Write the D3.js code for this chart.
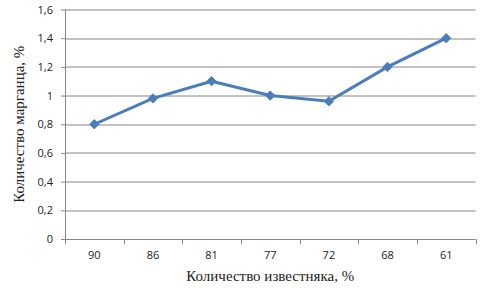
<!doctype html>
<html lang="ru">
<head>
  <meta charset="utf-8">
  <title>Количество марганца</title>
  <script src="https://d3js.org/d3.v7.min.js"></script>
  <style>
    body { margin: 0; background: #fff; }
  </style>
</head>
<body>
  <div id="chart"></div>
  <script>
    // data
    var categories = ['90', '86', '81', '77', '72', '68', '61'];
    var manganese = [0.8, 0.98, 1.1, 1.0, 0.96, 1.2, 1.4];
    var yTicks = [0, 0.2, 0.4, 0.6, 0.8, 1, 1.2, 1.4, 1.6];

    var width = 503, height = 288;
    var margin = {top: 9.5, right: 27.5, bottom: 49, left: 65};
    var w = width - margin.left - margin.right,
        h = height - margin.top - margin.bottom;

    var svg = d3.select('#chart').append('svg')
      .attr('width', width)
      .attr('height', height);

    var g = svg.append('g')
      .attr('transform', 'translate(' + margin.left + ',' + margin.top + ')');

    var x = d3.scaleBand().domain(categories).range([0, w]);
    var y = d3.scaleLinear().domain([0, 1.6]).range([h, 0]);

    var axisColor = '#868686';
    var labelFont = '"Open Sans", "Liberation Sans", Arial, sans-serif';
    var titleFont = 'Liberation Serif, Tinos, Times New Roman, DejaVu Serif, Noto Serif, serif';

    // gridlines
    g.selectAll('.grid')
      .data(yTicks.slice(1))
      .enter().append('line')
      .attr('class', 'grid')
      .attr('x1', 0).attr('x2', w)
      .attr('y1', function(d) { return Math.round(y(d)) + 0.5; })
      .attr('y2', function(d) { return Math.round(y(d)) + 0.5; })
      .attr('stroke', axisColor)
      .attr('stroke-width', 1);

    // y axis
    var yAxis = g.append('g')
      .call(d3.axisLeft(y).tickValues(yTicks).tickSize(4).tickPadding(8)
        .tickFormat(function(d) { return String(d).replace('.', ','); }));
    yAxis.select('.domain').attr('stroke', axisColor).attr('d', 'M0.5,0V' + h);
    yAxis.selectAll('.tick line').attr('stroke', axisColor);
    yAxis.selectAll('.tick text')
      .style('font-family', labelFont)
      .style('font-size', '11px')
      .attr('fill', '#222');

    // x axis with ticks on the band boundaries
    var xAxis = g.append('g')
      .attr('transform', 'translate(0,' + h + ')')
      .call(d3.axisBottom(x).tickSize(0).tickPadding(12));
    xAxis.select('.domain').attr('stroke', axisColor).attr('d', 'M0,0.5H' + w);
    xAxis.selectAll('.tick text')
      .style('font-family', labelFont)
      .style('font-size', '11px')
      .attr('fill', '#222');

    var bounds = categories.map(function(c) { return x(c); }).concat([w]);
    xAxis.selectAll('.bound')
      .data(bounds)
      .enter().append('line')
      .attr('x1', function(d) { return Math.round(d) + 0.5; })
      .attr('x2', function(d) { return Math.round(d) + 0.5; })
      .attr('y1', 0).attr('y2', 5)
      .attr('stroke', axisColor);

    // the line
    var line = d3.line()
      .x(function(d, i) { return x(categories[i]) + x.bandwidth() / 2; })
      .y(function(d) { return y(d); });

    g.append('path')
      .datum(manganese)
      .attr('d', line)
      .attr('fill', 'none')
      .attr('stroke', '#4a7ebb')
      .attr('stroke-width', 3)
      .attr('stroke-linejoin', 'round');

    // diamond markers
    g.selectAll('.marker')
      .data(manganese)
      .enter().append('path')
      .attr('class', 'marker')
      .attr('d', d3.symbol().type(d3.symbolDiamond2).size(55))
      .attr('transform', function(d, i) {
        return 'translate(' + (x(categories[i]) + x.bandwidth() / 2) + ',' + y(d) + ')';
      })
      .attr('fill', '#4a7ebb')
      .attr('stroke', '#4a7ebb');

    // axis titles
    svg.append('text')
      .attr('x', margin.left + w / 2)
      .attr('y', 281)
      .attr('text-anchor', 'middle')
      .attr('font-family', titleFont)
      .attr('font-size', 15)
      .attr('fill', '#222')
      .text('Количество известняка, %');

    svg.append('text')
      .attr('transform', 'translate(24,' + (margin.top + h / 2) + ') rotate(-90)')
      .attr('text-anchor', 'middle')
      .attr('font-family', titleFont)
      .attr('font-size', 15)
      .attr('fill', '#222')
      .text('Количество марганца, %');
  </script>
</body>
</html>
